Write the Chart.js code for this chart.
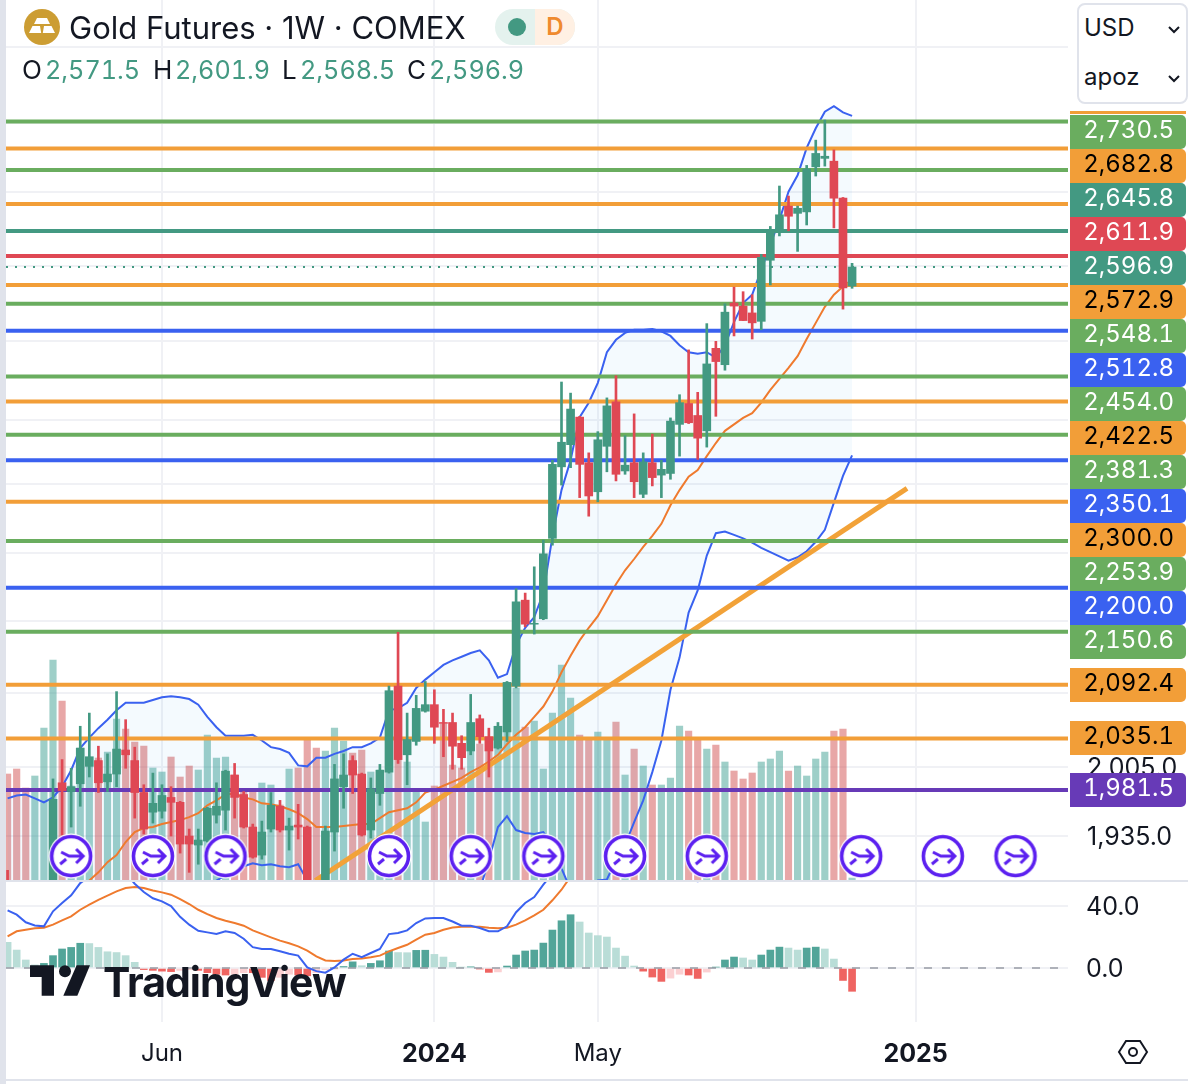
<!DOCTYPE html>
<html>
<head>
<meta charset="utf-8">
<title>Gold Futures</title>
<script src="https://cdn.jsdelivr.net/npm/chart.js@4"></script>
<style>
    html, body { margin: 0; padding: 0; background: #fff; }
    body { width: 1188px; height: 1084px; position: relative; overflow: hidden; font-family: Inter, "Noto Sans", sans-serif; color: #131722; }
    canvas { position: absolute; left: 0; display: block; }
    #priceChart { top: 0; }
    #macdChart { top: 882px; }
    .abs { position: absolute; white-space: nowrap; }
    .tag { position: absolute; left: 1070px; width: 104px; height: 34px; line-height: 30px; padding-right: 12px; text-align: right; font-size: 24px; font-variant-numeric: tabular-nums; border-radius: 0 5px 5px 0; }
    #strip { left: 0; top: 0; width: 6px; height: 1084px; background: #e0e3eb; }
    #sep { left: 6px; top: 880px; width: 1182px; height: 2px; background: #e0e3eb; }
    #foot { left: 6px; top: 1079px; width: 1182px; height: 2px; background: #e0e3eb; }
    #title { left: 69px; top: 9px; font-size: 31px; line-height: 38px; }
    #ohlc span { position: absolute; top: 54px; font-size: 26px; line-height: 32px; white-space: nowrap; }
    #ohlc .v { color: #439982; font-size: 25.2px; font-variant-numeric: tabular-nums; }
    #pill { left: 495px; top: 9px; width: 80px; height: 36px; border-radius: 18px; overflow: hidden; background: #e4f2ee; }
    #pillR { position: absolute; left: 40px; top: 0; width: 40px; height: 36px; background: #fff0e3; color: #ef8a2e; font-size: 24px; font-weight: 600; line-height: 36px; text-align: center; padding-left: 0; }
    #pillDot { position: absolute; left: 13px; top: 9px; width: 18px; height: 18px; border-radius: 9px; background: #439982; }
    #picker { left: 1077px; top: 3px; width: 107px; height: 97px; border: 2px solid #e0e3eb; border-radius: 8px; background: #fff; }
    .pick { position: absolute; left: 5px; font-size: 24px; line-height: 30px; }
    #logoText { left: 103px; top: 954px; font-size: 41px; line-height: 56px; font-weight: 700; letter-spacing: -1px; color: #131722; }
</style>
</head>
<body>
<canvas id="priceChart" width="1188" height="881"></canvas>
<canvas id="macdChart" width="1188" height="202"></canvas>

<div class="abs" id="strip"></div>
<div class="abs" id="sep"></div>
<div class="abs" id="foot"></div>

<svg class="abs" style="left:24px;top:9px" width="36" height="36" viewBox="0 0 36 36">
    <circle cx="18" cy="18" r="18" fill="#cc9d33"/>
    <path d="M13 9h10l3 6H10z M5 24l3.5-7h7.5l1.2 7z M18.8 24l1.2-7h7.5l3.5 7z" fill="#fff"/>
</svg>
<div class="abs" id="title">Gold Futures · 1W · COMEX</div>
<div class="abs" id="pill"><div id="pillDot"></div><div id="pillR">D</div></div>
<div id="ohlc">
    <span style="left:22px">O</span><span class="v" style="left:45px">2,571.5</span>
    <span style="left:153px">H</span><span class="v" style="left:175px">2,601.9</span>
    <span style="left:282px">L</span><span class="v" style="left:300px">2,568.5</span>
    <span style="left:407px">C</span><span class="v" style="left:429px">2,596.9</span>
</div>

<div class="abs" id="picker">
    <div class="pick" style="top:8px">USD</div>
    <div class="pick" style="top:57px">apoz</div>
    <svg class="abs" style="left:88px;top:20px" width="14" height="10" viewBox="0 0 14 10"><path d="M2 2l5 5 5-5" fill="none" stroke="#131722" stroke-width="2"/></svg>
    <svg class="abs" style="left:88px;top:69px" width="14" height="10" viewBox="0 0 14 10"><path d="M2 2l5 5 5-5" fill="none" stroke="#131722" stroke-width="2"/></svg>
</div>

<svg class="abs" style="left:30px;top:965px" width="60" height="31" viewBox="0 0 180 93">
    <path d="M0 1h72v91h-37v-56h-35z" fill="#131722"/>
    <circle cx="105" cy="19" r="18" fill="#131722"/>
    <path d="M140 1h40l-38 91h-42z" fill="#131722"/>
</svg>
<div class="abs" id="logoText">TradingView</div>

<svg class="abs" style="left:1117px;top:1038px" width="32" height="28" viewBox="0 0 32 28">
    <path d="M9 3h14l7 11-7 11H9L2 14z" fill="none" stroke="#131722" stroke-width="2"/>
    <circle cx="16" cy="14" r="4" fill="none" stroke="#131722" stroke-width="2"/>
</svg>

<script>
// candles, one per week, oldest first
var open = [
    1886,1877,1862,1850,1862,1875,1989,1980,1988,2006,
    2012,1990,1998,2023,2012,1979,1959,1960,1974,1969,
    1935,1926,1930,1956,1961,1997,1977,1944,1916,1942,
    1965,1941,1946,1944,1886,1870,1939,1985,2012,1998,
    1941,1978,2000,2091,2018,2032,2064,2071,2052,2052,
    2030,2022,2056,2037,2025,2042,2091,2186,2159,2165,
    2257,2342,2369,2403,2347,2312,2367,2422,2337,2347,
    2309,2347,2332,2334,2394,2420,2405,2386,2490,2469,
    2549,2545,2536,2525,2606,2644,2680,2670,2672,2735,
    2747,2743,2691,2571.5
];
var high = [
    1901,1885,1868,1868,1880,1993,2013,2004,2048,2062,
    2027,2019,2085,2055,2026,1987,1999,1987,1985,1970,
    1942,1942,1964,1989,2002,2009,1980,1947,1950,1979,
    1971,1953,1967,1945,1888,1945,2008,2019,2017,1999,
    1994,2008,2091,2150,2062,2081,2096,2087,2066,2062,
    2038,2082,2060,2046,2052,2096,2199,2194,2224,2255,
    2350,2447,2433,2404,2359,2385,2427,2455,2380,2407,
    2359,2382,2350,2402,2431,2488,2434,2522,2499,2548,
    2570,2564,2560,2614,2652,2708,2694,2680,2737,2773,
    2802,2759,2692,2601.9
];
var low = [
    1872,1855,1845,1845,1858,1870,1936,1944,1965,1995,
    1979,1980,1985,2004,1953,1937,1948,1953,1935,1918,
    1899,1907,1929,1948,1941,1953,1943,1913,1912,1939,
    1939,1921,1932,1870,1860,1865,1920,1963,1978,1935,
    1933,1966,1999,2009,1987,2028,2063,2030,2016,2003,
    2003,2018,2030,1995,2024,2032,2089,2156,2148,2164,
    2249,2320,2341,2305,2283,2300,2336,2325,2333,2305,
    2305,2319,2305,2327,2355,2395,2351,2366,2404,2462,
    2506,2526,2502,2514,2573,2639,2646,2618,2654,2722,
    2736,2650,2541,2568.5
];
var close = [
    1877,1862,1850,1862,1875,1972,1981,1985,2025,2016,
    1989,1998,2024,2018,1979,1942,1968,1976,1969,1927,
    1927,1931,1963,1965,2001,1974,1944,1914,1939,1966,
    1941,1945,1944,1886,1870,1940,1993,1997,1997,1936,
    1983,2002,2086,2013,2034,2067,2071,2047,2051,2027,
    2015,2052,2037,2022,2048,2095,2184,2159,2160,2239,
    2345,2372,2413,2345,2307,2375,2417,2333,2344,2324,
    2348,2329,2339,2398,2421,2396,2377,2470,2473,2537,
    2545,2526,2523,2610,2646,2668,2666,2677,2732,2754,
    2750,2691,2569,2596.9
];
var volume = [
    53,55.5,46,52,76,110,89.5,47,66,61,
    61,64,80.5,75.5,69,67,56,54,61.5,51.5,
    57,55,72.5,61,61.5,52.5,45,45,48.5,47.5,
    37.5,55.5,56,70,66,64.5,76,69.5,63.5,65,
    54,55,63,65,59,44,29,47,78,57.5,
    56,65,68,65,66,74,96,76.5,79.5,55.5,
    83.5,107.5,91,72.5,71,74,70,79,52.5,65.5,
    57,47.5,47.5,51,77,74.5,70,65.5,67.5,59,
    54.5,50.5,53.5,59,60.5,64.5,54.5,57,52,60.5,
    64,74.5,75.5,1
];

// bollinger bands
var bandUpper = [
    1973,1976,1977,1973,1969,1974,1985,2002,2025,2036,
    2046,2055,2065,2073,2073,2073,2076,2079,2080,2079,
    2077,2071,2058,2047,2038,2038,2038,2039,2033,2026,
    2024,2020,2007,2006,2015,2015,2019,2022,2026,2026,
    2030,2036,2065,2067,2073,2089,2098,2106,2114,2119,
    2123,2127,2130,2119,2100,2104,2136,2155,2167,2194,
    2259,2314,2350,2403,2421,2446,2485,2501,2510,2514,
    2514,2515,2512,2506,2494,2485,2483,2485,2478,2494,
    2524,2549,2560,2593,2627,2661,2700,2723,2762,2790,
    2814,2822,2813,2808
];
var bandLower = [
    1836,1838,1840,1842,1844,1843,1842,1841,1840,1846,
    1843,1841,1840,1840,1842,1845,1850,1856,1862,1868,
    1873,1878,1884,1891,1896,1901,1905,1908,1906,1907,
    1905,1904,1907,1891,1877,1872,1868,1866,1864,1862,
    1860,1858,1856,1852,1850,1848,1850,1853,1857,1862,
    1868,1875,1882,1911,1944,1955,1941,1938,1937,1939,
    1926,1903,1882,1880,1883,1891,1892,1911,1926,1949,
    1971,2000,2033,2087,2122,2172,2197,2237,2263,2265,
    2261,2257,2252,2246,2241,2236,2231,2235,2242,2253,
    2267,2299,2331,2356
];
var bandMiddle = [
    1860,1862,1864,1866,1868,1872,1876,1880,1885,1891,
    1899,1909,1916,1929,1939,1943,1944,1947,1949,1951,
    1954,1958,1966,1971,1977,1978,1974,1972,1968,1967,
    1965,1962,1958,1952,1944,1944,1944,1945,1946,1947,
    1947,1953,1959,1961,1963,1969,1979,1982,1986,1990,
    1994,2000,2005,2011,2018,2029,2039,2047,2058,2069,
    2085,2106,2124,2141,2155,2168,2186,2204,2220,2233,
    2247,2260,2274,2296,2314,2330,2338,2355,2371,2386,
    2394,2402,2408,2421,2437,2451,2465,2480,2502,2523,
    2544,2560,2571,2580
];

// macd pane
var macdLine = [
    37.2,34.4,29.5,27.5,26.9,36.6,41.9,46.9,54.8,59,
    62,64.5,66.7,61.3,54.4,49,45,43,40,33,
    28,24,23,22,23.7,22.6,18.9,13.5,12.3,12.3,
    10.8,9.2,8,0.4,-2,-3,0.4,5.4,9.2,7,
    9.7,12.3,21.9,22.6,24.3,29,32,32.3,32.3,30,
    27.3,27.3,25.8,23.7,23.7,26.9,36,42,45.8,53.8,
    61,70,76,82,84,85,85,84,82,80,
    76,72,68,64,60,57,56,57,58,60,
    62,64,66,68,70,72,76,79,82,85,
    86,84,78,70
];
var macdSignal = [
    20.4,23.7,24.7,25.6,26,28,30.8,33.3,37.6,40.9,
    44,46.7,49.5,51.6,52.3,51.6,50,48.8,47.3,44.5,
    41.3,37.6,34.8,32.3,30.5,29,27.3,24.3,22,19.8,
    17.7,16,14,11.2,7.5,4.9,4.5,4.9,5.8,6.2,
    6.9,8,10.8,12.9,15,18.3,21.5,22.6,24.7,26.2,
    26.7,26.7,26.7,26,25.6,26,28,30.8,34,37.6,
    43.7,50.5,59,62,64,66,68,69,70,70,
    69,68,66,64,62,60,58,57,57,58,
    58,59,60,61,62,63,64,65,66,68,
    70,72,72,70
];
var macdHist = [
    16.6,11.6,5.2,2,3,8,12.3,13.3,16,15.8,
    13.3,10.5,10,8,3.7,-1,-1.5,-2,-2.3,-1.5,
    -1,-1.5,-3,-4,-4.5,-4,-3,-3,-6,-8,
    -6,-4,-4.5,-5,-3,-1,-0.5,1,4,1.5,
    3,4.7,11,10,9.9,11.4,11.5,8.8,7.1,3.7,
    0.6,0.8,-0.6,-2.8,-2.5,1.3,8.4,11,11.6,16.1,
    24.5,30.5,34.4,29.7,22.6,20.9,20,12.9,7.7,1.3,
    -2,-5.8,-8.6,-6.5,-4,-4.5,-6.7,-2.6,0.6,5.2,
    7.1,6.5,5.2,8.4,11.6,13.5,12.9,11.6,12.9,13.5,
    12.3,5.8,-8,-15
];

// drawn levels
var levelValues = [2800,2761,2730.5,2682.8,2645.8,2611.9,2572.9,2548.1,2512.8,2454,2422.5,2381.3,2350.1,2300,2253.9,2200,2150.6,2092.4,2035.1,1981.5];
var levelColors = ['#6aad5f','#f29e38','#6aad5f','#f29e38','#439982','#df4854','#f29e38','#6aad5f','#3a61f0','#6aad5f','#f29e38','#6aad5f','#3a61f0','#f29e38','#6aad5f','#3a61f0','#6aad5f','#f29e38','#f29e38','#673ab7'];
var lastPrice = 2596.9;

// price tags down the right side
var tagValues = [2730.5,2682.8,2645.8,2611.9,2596.9,2572.9,2548.1,2512.8,2454,2422.5,2381.3,2350.1,2300,2253.9,2200,2150.6,2092.4,2035.1,1981.5];
var tagColors = ['#6aad5f','#f29e38','#439982','#df4854','#439982','#f29e38','#6aad5f','#3a61f0','#6aad5f','#f29e38','#6aad5f','#3a61f0','#f29e38','#6aad5f','#3a61f0','#6aad5f','#f29e38','#f29e38','#673ab7'];

// trend line and split markers, on the week index
var trendWeeks = [33.9, 99.05];
var trendPrices = [1891, 2316];
var splitWeeks = [7,16,24,42,51,59,68,77,94,103,111];
var splitPrice = 1915;

// axes
var weekMin = -0.176, weekMax = 116.78;
var priceMin = 1891.5, priceMax = 2981.4;
var priceGrid = [1935,2005,2083,2162,2240,2321,2400,2500,2598,2700,2798,2910];
var priceLabels = [1935,2005];
var volumeMax = 440;
var macdMin = -34.8, macdMax = 55.5;
var macdTicks = [40,0];
var weekTicks = [17,47,65,100];
var weekTickLabels = ['Jun','2024','May','2025'];

var UP = '#439982', DOWN = '#df4854', GRID = '#f0f1f5';

function points(values) {
    return values.map(function(v, i) { return {x: i, y: v}; });
}

function ranges(a, b) {
    return a.map(function(v, i) { return {x: i, y: [v, b[i]]}; });
}

function level(value) {
    return [{x: weekMin, y: value}, {x: weekMax, y: value}];
}

// tick labels must not shrink the plot, the panes have to line up exactly
function noEdgePadding(scale) {
    scale.paddingLeft = 0;
    scale.paddingRight = 0;
    scale.paddingTop = 0;
    scale.paddingBottom = 0;
}

function makeSplitIcon() {
    var c = document.createElement('canvas');
    c.width = 46; c.height = 46;
    var g = c.getContext('2d');
    g.translate(23, 23);
    g.fillStyle = '#fff';
    g.beginPath(); g.arc(0, 0, 22.5, 0, Math.PI * 2); g.fill();
    g.strokeStyle = '#5c20f0';
    g.lineWidth = 3.6;
    g.beginPath(); g.arc(0, 0, 19.5, 0, Math.PI * 2); g.stroke();
    g.lineWidth = 3;
    g.beginPath();
    g.moveTo(-10, -4); g.lineTo(-2, 0); g.lineTo(12, 0);
    g.moveTo(5, -7); g.lineTo(12, 0); g.lineTo(5, 7);
    g.moveTo(-11, 8); g.lineTo(-5, 3);
    g.stroke();
    return c;
}

var candleColors = close.map(function(v, i) { return v >= open[i] ? UP : DOWN; });
var volumeColors = close.map(function(v, i) { return v >= open[i] ? 'rgba(62,160,145,0.5)' : 'rgba(210,80,80,0.5)'; });

var priceSets = [
    {type: 'bar', data: points(volume), yAxisID: 'yVol', backgroundColor: volumeColors, barThickness: 6.5, order: 10},
    {type: 'line', data: points(bandUpper), yAxisID: 'y', borderColor: '#3a61f0', borderWidth: 2, pointRadius: 0, backgroundColor: 'rgba(33,150,243,0.05)', fill: '+1', order: 9},
    {type: 'line', data: points(bandLower), yAxisID: 'y', borderColor: '#3a61f0', borderWidth: 2, pointRadius: 0, order: 9},
    {type: 'line', data: points(bandMiddle), yAxisID: 'y', borderColor: '#ef7a2e', borderWidth: 2, pointRadius: 0, order: 8},
    {type: 'line', data: trendWeeks.map(function(w, i) { return {x: w, y: trendPrices[i]}; }), yAxisID: 'y', borderColor: '#f2a238', borderWidth: 5, pointRadius: 0, order: 7}
];
levelValues.forEach(function(v, i) {
    priceSets.push({type: 'line', data: level(v), yAxisID: 'y', borderColor: levelColors[i], borderWidth: 4, pointRadius: 0, order: 6});
});
priceSets.push({type: 'line', data: level(lastPrice), yAxisID: 'y', borderColor: UP, borderWidth: 2, borderDash: [2, 7], pointRadius: 0, order: 6});
priceSets.push({type: 'bar', data: ranges(low, high), yAxisID: 'y', backgroundColor: candleColors, barThickness: 2, grouped: false, order: 5});
priceSets.push({type: 'bar', data: ranges(open, close), yAxisID: 'y', backgroundColor: candleColors, barThickness: 8, grouped: false, order: 4});
priceSets.push({
    type: 'line',
    data: splitWeeks.map(function(w) { return {x: w, y: splitPrice}; }),
    yAxisID: 'y',
    showLine: false,
    pointStyle: makeSplitIcon(),
    pointRadius: 20,
    order: 1
});

var priceChart = new Chart(document.getElementById('priceChart'), {
    type: 'line',
    data: {datasets: priceSets},
    options: {
        responsive: false,
        animation: false,
        events: [],
        layout: {autoPadding: false, padding: {left: 6, top: 0, right: 0, bottom: 1}},
        plugins: {legend: {display: false}, tooltip: {enabled: false}},
        scales: {
            x: {
                type: 'linear', offset: false, min: weekMin, max: weekMax,
                grid: {color: GRID, lineWidth: 2, offset: false, drawTicks: false},
                border: {display: false},
                ticks: {display: false},
                afterBuildTicks: function(scale) { scale.ticks = weekTicks.map(function(v) { return {value: v}; }); },
                afterFit: function(scale) { scale.height = 0; noEdgePadding(scale); }
            },
            y: {
                type: 'logarithmic', position: 'right', min: priceMin, max: priceMax,
                grid: {color: GRID, lineWidth: 2, drawTicks: false},
                border: {display: false},
                ticks: {
                    autoSkip: false, padding: 19, labelOffset: 1, color: '#131722', font: {family: 'Inter', size: 25},
                    callback: function(v) {
                        return priceLabels.indexOf(v) >= 0 ? v.toLocaleString('en-US', {minimumFractionDigits: 1}) : '';
                    }
                },
                afterBuildTicks: function(scale) { scale.ticks = priceGrid.map(function(v) { return {value: v}; }); },
                afterFit: function(scale) { scale.width = 120; noEdgePadding(scale); }
            },
            yVol: {
                type: 'linear', display: false, min: 0, max: volumeMax,
                afterFit: function(scale) { scale.width = 0; noEdgePadding(scale); }
            }
        }
    }
});

var histColors = macdHist.map(function(v, i) {
    var rising = i === 0 ? false : v > macdHist[i - 1];
    if (v >= 0) return rising ? '#52a599' : '#b9ddd7';
    return rising ? '#fbd0d2' : '#ef6461';
});

var macdChart = new Chart(document.getElementById('macdChart'), {
    type: 'line',
    data: {datasets: [
        {type: 'bar', data: points(macdHist), backgroundColor: histColors, barThickness: 7, order: 5},
        {type: 'line', data: level(0), borderColor: 'rgba(120,123,134,0.55)', borderWidth: 2, borderDash: [8, 10], pointRadius: 0, order: 4},
        {type: 'line', data: points(macdSignal), borderColor: '#ef7a2e', borderWidth: 2, pointRadius: 0, order: 3},
        {type: 'line', data: points(macdLine), borderColor: '#3a61f0', borderWidth: 2, pointRadius: 0, order: 2}
    ]},
    options: {
        responsive: false,
        animation: false,
        events: [],
        layout: {autoPadding: false, padding: {left: 6, top: 0, right: 0, bottom: 0}},
        plugins: {legend: {display: false}, tooltip: {enabled: false}},
        scales: {
            x: {
                type: 'linear', offset: false, min: weekMin, max: weekMax,
                grid: {color: GRID, lineWidth: 2, offset: false, drawTicks: false},
                border: {display: false},
                ticks: {
                    autoSkip: false, maxRotation: 0, padding: 17, color: '#131722',
                    font: function(ctx) {
                        var label = weekTickLabels[weekTicks.indexOf(ctx.tick && ctx.tick.value)];
                        return /^\d+$/.test(label) ? {family: 'Inter', size: 25, weight: '700'} : {family: 'Inter', size: 24};
                    },
                    callback: function(v) { return weekTickLabels[weekTicks.indexOf(v)]; }
                },
                afterBuildTicks: function(scale) { scale.ticks = weekTicks.map(function(v) { return {value: v}; }); },
                afterFit: function(scale) { scale.height = 62; noEdgePadding(scale); }
            },
            y: {
                type: 'linear', position: 'right', min: macdMin, max: macdMax,
                grid: {color: GRID, lineWidth: 2, drawTicks: false},
                border: {display: false},
                ticks: {
                    autoSkip: false, padding: 18, labelOffset: 1, color: '#131722', font: {family: 'Inter', size: 25},
                    callback: function(v) { return v.toFixed(1); }
                },
                afterBuildTicks: function(scale) { scale.ticks = macdTicks.map(function(v) { return {value: v}; }); },
                afterFit: function(scale) { scale.width = 120; noEdgePadding(scale); }
            }
        }
    }
});

function addPriceTags() {
    var scale = priceChart.scales.y;
    tagValues.forEach(function(v, i) {
        var centre = i < 16 ? 132 + 34 * i : scale.getPixelForValue(v);
        var tag = document.createElement('div');
        tag.className = 'tag';
        tag.style.top = Math.round(centre - 17) + 'px';
        tag.style.background = tagColors[i];
        tag.style.color = tagColors[i] === '#f29e38' ? '#000' : '#fff';
        tag.textContent = v.toLocaleString('en-US', {minimumFractionDigits: 1});
        document.body.appendChild(tag);
    });
    // the two tags above this one are stacked out of sight, only a sliver shows
    var sliver = document.createElement('div');
    sliver.className = 'abs';
    sliver.style.cssText = 'left:1070px;top:111px;width:116px;height:3px;background:#f29e38';
    document.body.appendChild(sliver);
}
addPriceTags();
</script>
</body>
</html>
